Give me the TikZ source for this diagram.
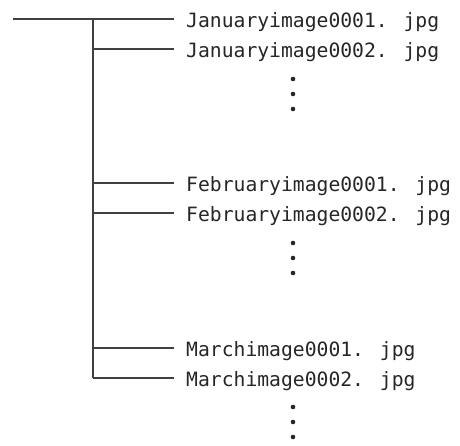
\documentclass[tikz,border=0pt]{standalone}
\usepackage{fontspec}
\usepackage{tikz}
\usetikzlibrary{positioning, calc}
\newfontfamily\filefont{DejaVu Sans Mono}

\begin{document}
\begin{tikzpicture}[x=1pt, y=-1pt,
    file/.style={anchor=base west, inner xsep=12pt, inner ysep=0pt, text=black!85, font=\filefont\fontsize{19.7}{24}\selectfont},
    branch/.style={draw=black!75, line width=1.6pt},
    dot/.style={circle, fill=black!85, inner sep=0pt, minimum size=4.6pt}]
    \useasboundingbox (0,0) rectangle (460,445);

    % trunk
    \coordinate (root) at (13,19);
    \coordinate (top) at (93,19);
    \coordinate (bottom) at (93,378);

    \node[file] (jan1) at (174,27) {Januaryimage0001. jpg};
    \node[file] (jan2) at (174,57) {Januaryimage0002. jpg};
    \node[file] (feb1) at (174,191) {Februaryimage0001. jpg};
    \node[file] (feb2) at (174,221) {Februaryimage0002. jpg};
    \node[file] (mar1) at (174,356) {Marchimage0001. jpg};
    \node[file] (mar2) at (174,386) {Marchimage0002. jpg};

    \draw[branch] (root) -- (root -| jan1.west);
    \draw[branch] (top) -- (bottom);
    \foreach \f/\y in {jan2/49, feb1/183, feb2/213, mar1/348, mar2/378}
        \draw[branch] (93,\y) -- (93,\y -| \f.west);

    % more files
    \foreach \y in {79, 243, 407}
        \foreach \k in {0,1,2}
            \node[dot] (d\y\k) at (293,\y+15*\k) {};
\end{tikzpicture}
\end{document}
